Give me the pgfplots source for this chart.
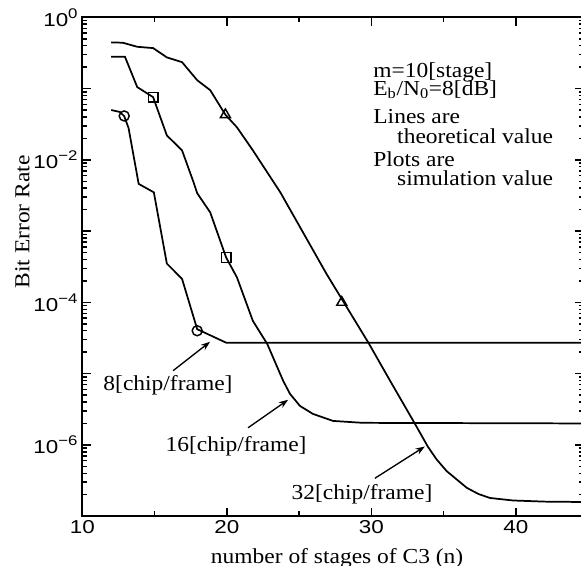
\documentclass[border=0pt]{standalone}
\usepackage{fontspec}
\setmainfont{Liberation Serif}[FakeStretch=1.1]
\setsansfont{Liberation Sans}[FakeStretch=1.2]
\usepackage{pgfplots}
\pgfplotsset{compat=1.18}
\usetikzlibrary{arrows.meta}

% superscript for the decade labels
\newcommand{\sups}[1]{\raisebox{6pt}{\fontsize{10.5}{10.5}\selectfont #1}}

\begin{document}
\begin{tikzpicture}
\begin{axis}[
  name=ax,
  scale only axis,
  width=376.05pt, height=374pt,
  ymode=log,
  xmin=10, xmax=44.7,
  ymin=1e-7, ymax=1,
  xtick={10,20,30,40},
  xticklabels={10,20,30,40},
  minor xtick={15,25,35},
  ytick={1e-7,1e-6,1e-5,1e-4,1e-3,1e-2,1e-1,1},
  yticklabels={,10\sups{−6},,10\sups{−4},,10\sups{−2},,10\sups{0}},
  tick align=inside,
  major tick length=6.5pt,
  minor tick length=3.75pt,
  every tick/.style={black, line width=1.1pt},
  axis line style={line width=1.6pt},
  ticklabel style={font=\sffamily\fontsize{14}{14}\selectfont},
  xlabel={number of stages of C3 (n)},
  ylabel={Bit Error Rate},
  label style={font=\fontsize{16}{18}\selectfont},
  xlabel style={at={(rel axis cs:0.508,-0.0942)}, anchor=base},
  ylabel style={at={(rel axis cs:-0.1057,0.59)}, anchor=base},
]
% theoretical lines
\addplot[black, line width=1.3pt] coordinates {
  (12,0.445) (12.8,0.44) (13.8,0.386) (14.9,0.37) (15.85,0.274) (16.9,0.235)
  (17.95,0.131) (18.85,0.095) (19.9,0.043) (20.7,0.0286) (21.8,0.0136)
  (23.7,3.5e-3) (26.9,2.5e-4) (29.8,2.7e-5) (31.3,7.9e-6) (33,2.0e-6)
  (33.9,9.5e-7) (34.5,6.3e-7) (35.2,4.3e-7) (36.6,2.5e-7) (37.4,2.05e-7)
  (38.2,1.8e-7) (39.8,1.66e-7) (42,1.6e-7) (44.7,1.58e-7)};
\addplot[black, line width=1.3pt] coordinates {
  (12,0.279) (12.95,0.28) (13.8,0.105) (14.9,0.0758) (15.85,0.022) (16.9,0.0136)
  (17.65,5.15e-3) (17.95,3.4e-3) (18.85,1.83e-3) (19.95,4.27e-4) (20.7,2.24e-4)
  (21.8,5.5e-5) (22.8,2.6e-5) (23.9,7.9e-6) (24.37,5.2e-6) (25.06,3.52e-6)
  (25.96,2.72e-6) (27.35,2.17e-6) (29.4,2.04e-6) (44.7,2.0e-6)};
\addplot[black, line width=1.3pt] coordinates {
  (12,0.050) (12.6,0.047) (12.9,0.041) (13.2,0.028) (13.9,4.6e-3) (14.95,3.5e-3)
  (15.85,3.5e-4) (16.9,2.14e-4) (17.95,4.2e-5) (19.95,2.72e-5) (44.7,2.72e-5)};
% simulation points
\addplot[only marks, mark=o, mark size=3.75pt, mark options={line width=1.1pt}]
  coordinates {(12.9,0.0413) (17.95,4.0e-5)};
\addplot[only marks, mark=square, mark size=3.6pt, mark options={line width=1.1pt}]
  coordinates {(14.9,0.0757) (19.95,4.27e-4)};
\addplot[only marks, mark=triangle, mark size=4.3pt, mark options={line width=1.1pt}]
  coordinates {(19.9,0.043) (27.95,1.0e-4)};

% text block
\begin{scope}[every node/.style={font=\fontsize{16}{18}\selectfont, anchor=base west, inner sep=0pt}]
\node at (axis cs:30.12,0.1445) {m=10[stage]};
\node at (axis cs:30.12,0.0805) {E\textsubscript{b}/N\textsubscript{0}=8[dB]};
\node at (axis cs:30.12,0.03266) {Lines are};
\node at (axis cs:31.77,0.01706) {theoretical value};
\node at (axis cs:30.12,0.00811) {Plots are};
\node at (axis cs:31.77,0.004375) {simulation value};
\end{scope}

% curve labels
\begin{scope}[every node/.style={font=\fontsize{16}{18}\selectfont, anchor=base, inner sep=0pt}]
\node at (axis cs:15.93,5.75e-6) {8[chip/frame]};
\node at (axis cs:20.64,8.1e-7) {16[chip/frame]};
\node at (axis cs:29.35,1.74e-7) {32[chip/frame]};
\end{scope}
\draw[-{Stealth[length=7pt,width=5pt]}, line width=1pt] (axis cs:16.28,1.1e-5) -- (axis cs:18.84,2.8e-5);
\draw[-{Stealth[length=7pt,width=5pt]}, line width=1pt] (axis cs:21.47,1.74e-6) -- (axis cs:24.24,4.3e-6);
\draw[-{Stealth[length=7pt,width=5pt]}, line width=1pt] (axis cs:30.24,3.4e-7) -- (axis cs:33.7,9.5e-7);
\end{axis}
\pgfresetboundingbox
\path[use as bounding box] ([shift={(-61.7pt,-36.75pt)}]ax.south west) rectangle ([shift={(373.9pt,12.98pt)}]ax.north west);
\end{tikzpicture}
\end{document}
